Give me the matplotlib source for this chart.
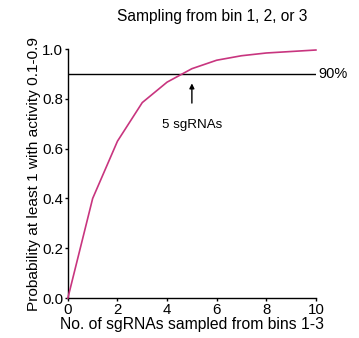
import matplotlib
matplotlib.use("Agg")
import matplotlib.pyplot as plt

plt.rcParams["font.family"] = ["Liberation Sans", "DejaVu Sans"]

# probability of picking at least one active sgRNA vs. number sampled
n_sampled = [0, 1, 2, 3, 4, 5, 6, 7, 8, 9, 10]
prob_active = [0.0, 0.40, 0.63, 0.785, 0.867, 0.921, 0.955, 0.973, 0.984, 0.99, 0.996]
threshold = 0.9
threshold_label = "90%"
marker_n = 5
marker_label = "5 sgRNAs"


def main():
    fig = plt.figure(figsize=(3.59, 3.38), dpi=100)
    ax = fig.add_axes([0.189, 0.118, 0.691, 0.737])

    ax.plot(n_sampled, prob_active, color="#c8357f", lw=1.2, clip_on=False, zorder=3)
    ax.plot([0, 10], [threshold, threshold], color="black", lw=1.0)
    ax.text(10.08, threshold, threshold_label, va="center", ha="left", fontsize=10.5)

    ax.annotate("", xy=(marker_n, 0.862), xytext=(marker_n, 0.783),
                arrowprops=dict(arrowstyle="-|>", color="black", lw=1.0,
                                mutation_scale=7, shrinkA=0, shrinkB=0))
    ax.text(marker_n, 0.695, marker_label, ha="center", va="center", fontsize=9.6)

    ax.set_xlim(0, 10)
    ax.set_ylim(0, 1.0)
    ax.set_xticks([0, 2, 4, 6, 8, 10])
    ax.set_yticks([0.0, 0.2, 0.4, 0.6, 0.8, 1.0])
    ax.set_yticklabels(["0.0", "0.2", "0.4", "0.6", "0.8", "1.0"])
    ax.tick_params(labelsize=10.8, length=2.5, width=1, pad=0.8)
    for side in ["top", "right"]:
        ax.spines[side].set_visible(False)
    for side in ["left", "bottom"]:
        ax.spines[side].set_linewidth(1.0)

    ax.set_xlabel("No. of sgRNAs sampled from bins 1-3", fontsize=11.3, labelpad=0)
    ax.set_ylabel("Probability at least 1 with activity 0.1-0.9", fontsize=11.1, labelpad=1)
    fig.text(212 / 359, 1 - 17 / 338, "Sampling from bin 1, 2, or 3",
             fontsize=11.2, ha="center", va="center")

    fig.savefig("out.png", dpi=100)


if __name__ == "__main__":
    main()
